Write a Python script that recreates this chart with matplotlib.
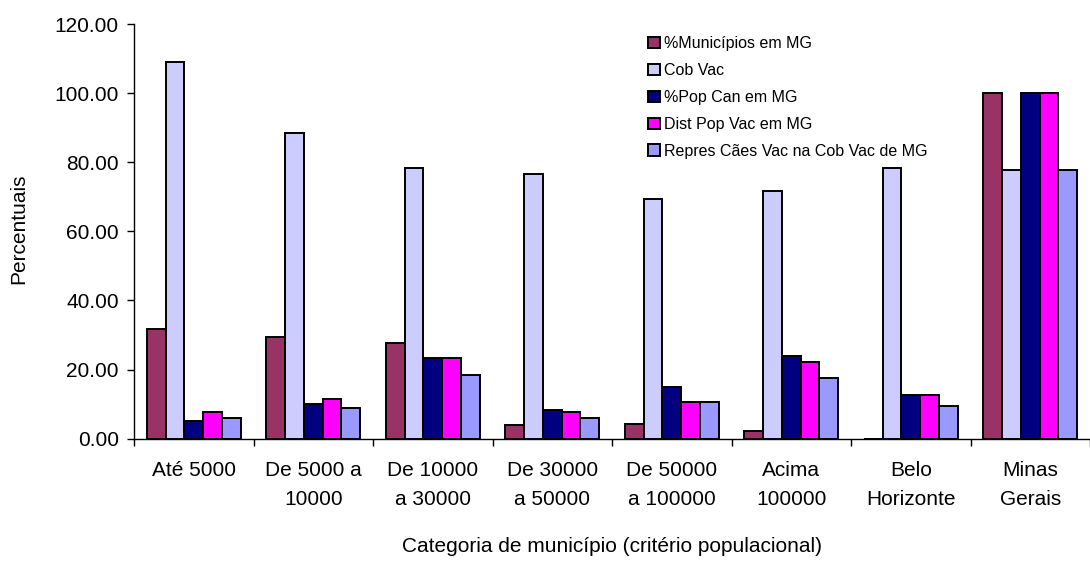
import numpy as np
import matplotlib
matplotlib.use("Agg")
import matplotlib.pyplot as plt

plt.rcParams["font.family"] = ["Liberation Sans", "DejaVu Sans"]

categorias = ["Até 5000", "De 5000 a\n10000", "De 10000\na 30000", "De 30000\na 50000",
              "De 50000\na 100000", "Acima\n100000", "Belo\nHorizonte", "Minas\nGerais"]

series = ["%Municípios em MG", "Cob Vac", "%Pop Can em MG", "Dist Pop Vac em MG",
          "Repres Cães Vac na Cob Vac de MG"]
cores = ["#993366", "#CCCCFF", "#000080", "#FF00FF", "#9999FF"]

municipios = [31.8, 29.3, 27.6, 4.1, 4.2, 2.2, 0.0, 100.0]
cob_vac = [109.1, 88.5, 78.2, 76.6, 69.3, 71.7, 78.2, 77.7]
pop_can = [5.2, 10.1, 23.4, 8.3, 15.0, 23.9, 12.6, 100.0]
dist_pop_vac = [7.6, 11.4, 23.4, 7.6, 10.7, 22.3, 12.6, 100.0]
repres_caes = [5.9, 8.9, 18.5, 5.9, 10.7, 17.5, 9.5, 77.7]

valores = [municipios, cob_vac, pop_can, dist_pop_vac, repres_caes]

fig = plt.figure(figsize=(10.9, 5.61), dpi=100)
ax = fig.add_axes([134 / 1090, 1 - 438.7 / 561, 956 / 1090, (438.7 - 24) / 561])

x = np.arange(len(categorias))
w = 0.157
for i, (vals, nome, cor) in enumerate(zip(valores, series, cores)):
    ax.bar(x + (i - 2) * w, vals, w, color=cor, edgecolor="black", linewidth=1.4,
           label=nome, zorder=2)

ax.set_xlim(-0.5, len(categorias) - 0.5)
ax.set_ylim(0, 120)
ax.set_yticks(np.arange(0, 121, 20))
ax.set_yticklabels([f"{v:.2f}" for v in np.arange(0, 121, 20)], fontsize=15)
ax.set_xticks(x)
ax.set_xticklabels(categorias, fontsize=15, linespacing=1.65, va="top")
ax.set_xticks(np.arange(-0.5, len(categorias), 1), minor=True)
ax.tick_params(axis="x", which="major", length=0, pad=16)
ax.tick_params(axis="x", which="minor", length=5, width=1, direction="out")
ax.tick_params(axis="y", length=5, width=1, direction="out", pad=6)

for s in ["top", "right"]:
    ax.spines[s].set_visible(False)
for s in ["left", "bottom"]:
    ax.spines[s].set_linewidth(1)

fig.text(612 / 1090, 1 - 547 / 561, "Categoria de município (critério populacional)",
         fontsize=15, ha="center", va="center")
fig.text(19 / 1090, 1 - 229 / 561, "Percentuais", fontsize=15, rotation=90,
         ha="center", va="center")

ax.legend(loc="upper left", bbox_to_anchor=(648 / 1090, 1 - 36 / 561),
          bbox_transform=fig.transFigure, frameon=False, fontsize=11.5,
          handlelength=0.75, handleheight=0.75, handletextpad=0.25,
          labelspacing=0.75, borderpad=0, borderaxespad=0)

fig.savefig("out.png", dpi=100)
